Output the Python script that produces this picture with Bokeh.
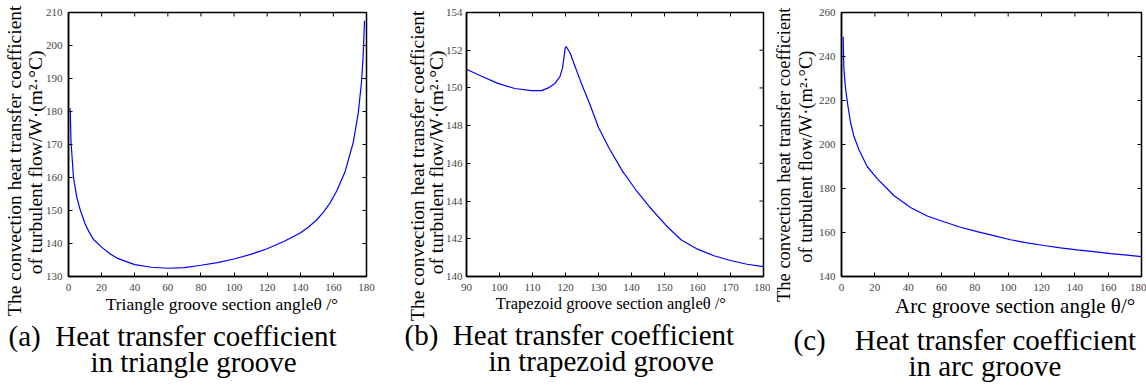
import numpy as np
from bokeh.plotting import figure
from bokeh.models import Range1d, Title
from bokeh.layouts import row
from bokeh.embed import file_html
from bokeh.resources import INLINE

# ---------------- data ----------------
tri_angle = [1, 1.5, 3, 5, 7, 10, 12, 15, 20, 25, 30, 40, 50, 60, 70, 80, 90, 100,
             110, 120, 130, 140, 145, 150, 154, 158, 162, 167, 172, 175, 177, 178, 178.8]
tri_h = [181, 171, 160, 154, 150.3, 146, 143.9, 141.3, 138.9, 136.9, 135.4, 133.6,
         132.8, 132.5, 132.7, 133.4, 134.2, 135.3, 136.7, 138.4, 140.6, 143.2, 145.0,
         147.2, 149.5, 152.3, 155.9, 161.7, 170.6, 179.5, 189, 197, 207.5]

trap_angle = [90, 94.4, 99.5, 104.6, 109.7, 112.7, 114.8, 116.8, 118.3, 119.1, 119.9,
              120.2, 121.4, 122.9, 125, 127.5, 130, 133.1, 137.2, 141.3, 145.4, 150.4,
              155, 160, 165, 170, 175, 180]
trap_h = [150.99, 150.63, 150.24, 149.97, 149.86, 149.86, 150.0, 150.24, 150.6, 151.05,
          152.1, 152.2, 151.85, 151.14, 150.15, 149.08, 147.9, 146.84, 145.6, 144.6,
          143.7, 142.72, 141.95, 141.45, 141.1, 140.85, 140.65, 140.52]

arc_angle = [1, 1.4, 2.4, 3.8, 5.4, 7.4, 10.4, 15.4, 21.4, 31.4, 41.4, 51.4, 61.4, 71.4,
             81.4, 91.4, 101.4, 111.4, 121.4, 131.4, 141.4, 151.4, 161.4, 171.4, 180]
arc_h = [249, 234.8, 225.5, 217.8, 210, 203.9, 197.7, 190, 184.5, 176.8, 171.4, 167.5,
         164.9, 162.4, 160.4, 158.6, 156.7, 155.3, 154.1, 153.0, 152.1, 151.3, 150.4,
         149.7, 149.0]

a_xticks = [0, 20, 40, 60, 80, 100, 120, 140, 160, 180]
a_yticks = [130, 140, 150, 160, 170, 180, 190, 200, 210]
b_xticks = [90, 100, 110, 120, 130, 140, 150, 160, 170, 180]
b_yticks = [140, 142, 144, 146, 148, 150, 152, 154]
c_xticks = [0, 20, 40, 60, 80, 100, 120, 140, 160, 180]
c_yticks = [140, 160, 180, 200, 220, 240, 260]

NB = "\u00a0"
ylab1 = "The convection heat transfer coefficient"
ylab2 = "of turbulent flow/W\u00b7(m\u00b2\u00b7\u00b0C)"
a_xlabel = NB * 2 + "Triangle groove section angle\u03b8 /\u00b0"
b_xlabel = "Trapezoid groove section angle\u03b8 /\u00b0" + NB * 2
c_xlabel = NB * 9 + "Arc groove section angle \u03b8/\u00b0"
a_cap = ["(a)" + NB * 2 + "Heat transfer coefficient", "in triangle groove"]
b_cap = ["(b)" + NB * 2 + "Heat transfer coefficient", "in trapezoid groove"]
c_cap = ["(c)" + NB * 4 + "Heat transfer coefficient", "in arc groove"]

H = 387
SERIF = "'Liberation Serif', 'Times New Roman', serif"


def style_axis(ax, ticks, standoff):
    ax.ticker = ticks
    ax.axis_line_color = "black"
    ax.axis_line_width = 1.5
    ax.major_tick_line_color = "black"
    ax.major_tick_line_width = 1
    ax.major_tick_in = 4
    ax.major_tick_out = 0
    ax.minor_tick_line_color = None
    ax.major_label_text_font = SERIF
    ax.major_label_text_font_size = "11px"
    ax.major_label_text_color = "#444444"
    ax.major_label_standoff = standoff


def make_panel(width, xs, ys, xr, yr, xticks, yticks, borders, xsd, ysd):
    bl, br = borders
    p = figure(width=width, height=H, x_range=Range1d(*xr), y_range=Range1d(*yr),
               output_backend="svg", toolbar_location=None,
               min_border_left=bl, min_border_right=br,
               min_border_top=12, min_border_bottom=111)
    p.xgrid.visible = False
    p.ygrid.visible = False
    p.outline_line_color = "black"
    p.outline_line_width = 1.5
    p.background_fill_color = "white"
    p.border_fill_color = "white"
    style_axis(p.xaxis[0], xticks, xsd)
    style_axis(p.yaxis[0], yticks, ysd)
    # inward ticks on the top and right edges (half of each dash is clipped away)
    p.scatter(xticks, [yr[1]] * len(xticks), marker="dash", size=8, angle=np.pi / 2,
              line_color="black", line_width=1)
    p.scatter([xr[1]] * len(yticks), yticks, marker="dash", size=8,
              line_color="black", line_width=1)
    p.line(xs, ys, line_color="#0000ff", line_width=1.2)
    return p


def ylabels(p, size, off1, off2, sd1, sd2):
    p.add_layout(Title(text=ylab2, align="right", offset=off2, standoff=sd2,
                       text_font=SERIF, text_font_size=size, text_font_style="normal",
                       text_color="black"), "left")
    p.add_layout(Title(text=ylab1, align="right", offset=off1, standoff=sd1,
                       text_font=SERIF, text_font_size=size, text_font_style="normal",
                       text_color="black"), "left")


def xlabel(p, text, size, standoff):
    ax = p.xaxis[0]
    ax.axis_label = text
    ax.axis_label_text_font = SERIF
    ax.axis_label_text_font_size = size
    ax.axis_label_text_font_style = "normal"
    ax.axis_label_text_color = "black"
    ax.axis_label_standoff = standoff


def caption(p, lines, off1, off2, sd1, sd2):
    p.add_layout(Title(text=lines[0], align="left", offset=off1, standoff=sd1,
                       text_font=SERIF, text_font_size="29px", text_font_style="normal",
                       text_color="black"), "below")
    p.add_layout(Title(text=lines[1], align="left", offset=off2, standoff=sd2,
                       text_font=SERIF, text_font_size="29px", text_font_style="normal",
                       text_color="black"), "below")


# Panel (a)
pa = make_panel(390, tri_angle, tri_h, (0, 180), (130, 210), a_xticks, a_yticks,
                (67, 24), 7, 6)
ylabels(pa, "19.5px", -7, 38, 2, -6)
xlabel(pa, a_xlabel, "17.5px", 0)
caption(pa, a_cap, -60, 22, 2, -18)

# Panel (b)
pb = make_panel(380, trap_angle, trap_h, (90, 180), (140, 154), b_xticks, b_yticks,
                (76, 7), 7, 4)
ylabels(pb, "19.5px", -2, 38, 2, -9)
xlabel(pb, b_xlabel, "16.5px", 0)
caption(pb, b_cap, -62, 22, 2, -18)

# Panel (c)
pc = make_panel(376, arc_angle, arc_h, (0, 180), (140, 260), c_xticks, c_yticks,
                (71, 5), 7, 6)
ylabels(pc, "18.5px", -5, 38, 0, 0)
xlabel(pc, c_xlabel, "21px", 0)
caption(pc, c_cap, -48, 67, 2, -18)

layout = row(pa, pb, pc)
open("out.html", "w").write(file_html(layout, INLINE))
